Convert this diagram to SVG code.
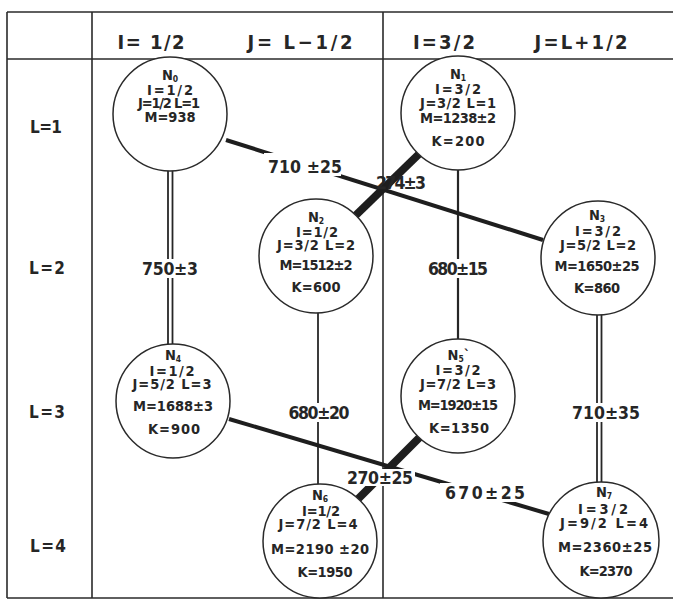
<svg xmlns="http://www.w3.org/2000/svg" width="673" height="605" viewBox="0 0 673 605">
  <style>
    .frame { stroke: #2a2a2a; stroke-width: 1.6; fill: none; }
    .node circle { fill: #fff; stroke: #2a2a2a; stroke-width: 1.5; }
    text { font-family: "DejaVu Sans Condensed", "DejaVu Sans", sans-serif; font-stretch: condensed; font-weight: bold; fill: #262626; text-anchor: middle; }
    .nt { font-size: 14.5px; }
    .sub { font-size: 8.5px; }
    .hd { font-size: 20px; }
    .rl { font-size: 17px; }
    .lb { font-size: 17.5px; }
    .thin { stroke: #262626; stroke-width: 1.8; fill: none; }
    .single { stroke: #262626; stroke-width: 2.2; fill: none; }
    .thick { stroke: #1e1e1e; stroke-width: 4; fill: none; }
    .heavy { stroke: #1e1e1e; stroke-width: 8; fill: none; }
    .bg { fill: #fff; }
  </style>
  <rect width="673" height="605" fill="#fff"/>

  <!-- table grid -->
  <g id="grid">
    <line class="frame" x1="7" y1="12" x2="673" y2="12"/>
    <line class="frame" x1="7" y1="59" x2="673" y2="59"/>
    <line class="frame" x1="7" y1="598" x2="673" y2="598"/>
    <line class="frame" x1="7" y1="12" x2="7" y2="598"/>
    <line class="frame" x1="92" y1="12" x2="92" y2="598"/>
    <line class="frame" x1="383" y1="12" x2="383" y2="598"/>
  </g>

  <!-- column and row headings -->
  <g id="headings">
    <text class="hd" x="151" y="49" textLength="67" lengthAdjust="spacing">I= 1/2</text>
    <text class="hd" x="300" y="49" textLength="105" lengthAdjust="spacing">J= L−1/2</text>
    <text class="hd" x="444" y="49" textLength="62" lengthAdjust="spacing">I=3/2</text>
    <text class="hd" x="581" y="49" textLength="93" lengthAdjust="spacing">J=L+1/2</text>
    <text class="rl" x="46" y="133" textLength="32" lengthAdjust="spacing">L=1</text>
    <text class="rl" x="47" y="274" textLength="36" lengthAdjust="spacing">L=2</text>
    <text class="rl" x="47" y="418" textLength="36" lengthAdjust="spacing">L=3</text>
    <text class="rl" x="48" y="552" textLength="36" lengthAdjust="spacing">L=4</text>
  </g>

  <!-- transitions between levels -->
  <g id="connectors">
    <line class="thin" x1="168" y1="170" x2="168" y2="345"/>
    <line class="thin" x1="172.5" y1="170" x2="172.5" y2="345"/>
    <line class="single" x1="458" y1="169" x2="458" y2="340"/>
    <line class="thin" x1="318" y1="312" x2="318" y2="485"/>
    <line class="thin" x1="597" y1="314" x2="597" y2="483"/>
    <line class="thin" x1="601.5" y1="314" x2="601.5" y2="483"/>
    <line class="thick" x1="226" y1="140" x2="543" y2="240"/>
    <line class="thick" x1="229" y1="419" x2="549" y2="514"/>
    <line class="heavy" x1="355" y1="216" x2="419" y2="154"/>
    <line class="heavy" x1="357" y1="500" x2="420" y2="437"/>

    <rect class="bg" x="264" y="153" width="77" height="23"/>
    <text class="lb" x="305" y="173" textLength="74" lengthAdjust="spacing">710 ±25</text>
    <text class="lb" x="401" y="189" textLength="50" lengthAdjust="spacing">274±3</text>
    <rect class="bg" x="140" y="259" width="60" height="19"/>
    <text class="lb" x="170" y="275" textLength="56" lengthAdjust="spacing">750±3</text>
    <rect class="bg" x="426" y="259" width="64" height="19"/>
    <text class="lb" x="458" y="275" textLength="60" lengthAdjust="spacing">680±15</text>
    <rect class="bg" x="287" y="403" width="65" height="19"/>
    <text class="lb" x="319" y="419" textLength="61" lengthAdjust="spacing">680±20</text>
    <rect class="bg" x="570" y="403" width="72" height="19"/>
    <text class="lb" x="606" y="419" textLength="68" lengthAdjust="spacing">710±35</text>
    <rect class="bg" x="347" y="469" width="68" height="17"/>
    <text class="lb" x="380" y="484" textLength="66" lengthAdjust="spacing">270±25</text>
    <rect class="bg" x="440" y="483" width="90" height="19"/>
    <text class="lb" x="485" y="499" textLength="80" lengthAdjust="spacing">670±25</text>
  </g>

  <g id="N0" class="node">
    <circle cx="170" cy="114" r="57"/>
    <text class="nt" x="170" y="80">N<tspan class="sub" dy="2">0</tspan></text>
    <text class="nt" x="170" y="94.5" textLength="46" lengthAdjust="spacing">I=1/2</text>
    <text class="nt" x="169" y="108" textLength="62" lengthAdjust="spacing">J=1/2 L=1</text>
    <text class="nt" x="170" y="122" textLength="51" lengthAdjust="spacing">M=938</text>
  </g>

  <g id="N1" class="node">
    <circle cx="458" cy="113" r="57"/>
    <text class="nt" x="458" y="79">N<tspan class="sub" dy="2">1</tspan></text>
    <text class="nt" x="458" y="93.5" textLength="46" lengthAdjust="spacing">I=3/2</text>
    <text class="nt" x="458" y="107.5" textLength="76" lengthAdjust="spacing">J=3/2 L=1</text>
    <text class="nt" x="458" y="123" textLength="76" lengthAdjust="spacing">M=1238±2</text>
    <text class="nt" x="458" y="146" textLength="53" lengthAdjust="spacing">K=200</text>
  </g>

  <g id="N2" class="node">
    <circle cx="316" cy="256" r="57"/>
    <text class="nt" x="316" y="222">N<tspan class="sub" dy="2">2</tspan></text>
    <text class="nt" x="317" y="236.5" textLength="42" lengthAdjust="spacing">I=1/2</text>
    <text class="nt" x="316" y="249.5" textLength="78" lengthAdjust="spacing">J=3/2 L=2</text>
    <text class="nt" x="316" y="270" textLength="73" lengthAdjust="spacing">M=1512±2</text>
    <text class="nt" x="316" y="292" textLength="49" lengthAdjust="spacing">K=600</text>
  </g>

  <g id="N3" class="node">
    <circle cx="598" cy="258" r="57"/>
    <text class="nt" x="597" y="220">N<tspan class="sub" dy="2">3</tspan></text>
    <text class="nt" x="598" y="235.5" textLength="46" lengthAdjust="spacing">I=3/2</text>
    <text class="nt" x="598" y="250" textLength="76" lengthAdjust="spacing">J=5/2 L=2</text>
    <text class="nt" x="597" y="271" textLength="85" lengthAdjust="spacing">M=1650±25</text>
    <text class="nt" x="597" y="293" textLength="46" lengthAdjust="spacing">K=860</text>
  </g>

  <g id="N4" class="node">
    <circle cx="173" cy="401" r="57"/>
    <text class="nt" x="173" y="360">N<tspan class="sub" dy="2">4</tspan></text>
    <text class="nt" x="172" y="375.5" textLength="45" lengthAdjust="spacing">I=1/2</text>
    <text class="nt" x="172" y="389" textLength="79" lengthAdjust="spacing">J=5/2 L=3</text>
    <text class="nt" x="173" y="411" textLength="80" lengthAdjust="spacing">M=1688±3</text>
    <text class="nt" x="174" y="434" textLength="52" lengthAdjust="spacing">K=900</text>
  </g>

  <g id="N5" class="node">
    <circle cx="458" cy="396" r="57"/>
    <text class="nt" x="459" y="360">N<tspan class="sub" dy="2">5</tspan><tspan dy="-2">`</tspan></text>
    <text class="nt" x="458" y="375" textLength="45" lengthAdjust="spacing">I=3/2</text>
    <text class="nt" x="458" y="389" textLength="76" lengthAdjust="spacing">J=7/2 L=3</text>
    <text class="nt" x="458" y="410" textLength="80" lengthAdjust="spacing">M=1920±15</text>
    <text class="nt" x="459" y="433" textLength="60" lengthAdjust="spacing">K=1350</text>
  </g>

  <g id="N6" class="node">
    <circle cx="320" cy="541" r="57"/>
    <text class="nt" x="320" y="500">N<tspan class="sub" dy="2">6</tspan></text>
    <text class="nt" x="321" y="515.5" textLength="38" lengthAdjust="spacing">I=1/2</text>
    <text class="nt" x="318" y="529" textLength="79" lengthAdjust="spacing">J=7/2 L=4</text>
    <text class="nt" x="320" y="554" textLength="98" lengthAdjust="spacing">M=2190 ±20</text>
    <text class="nt" x="325" y="577" textLength="55" lengthAdjust="spacing">K=1950</text>
  </g>

  <g id="N7" class="node">
    <circle cx="601" cy="540" r="58"/>
    <text class="nt" x="604" y="497">N<tspan class="sub" dy="2">7</tspan></text>
    <text class="nt" x="603" y="513.5" textLength="50" lengthAdjust="spacing">I=3/2</text>
    <text class="nt" x="604" y="528" textLength="88" lengthAdjust="spacing">J=9/2 L=4</text>
    <text class="nt" x="605" y="552" textLength="94" lengthAdjust="spacing">M=2360±25</text>
    <text class="nt" x="606" y="576" textLength="53" lengthAdjust="spacing">K=2370</text>
  </g>
</svg>
